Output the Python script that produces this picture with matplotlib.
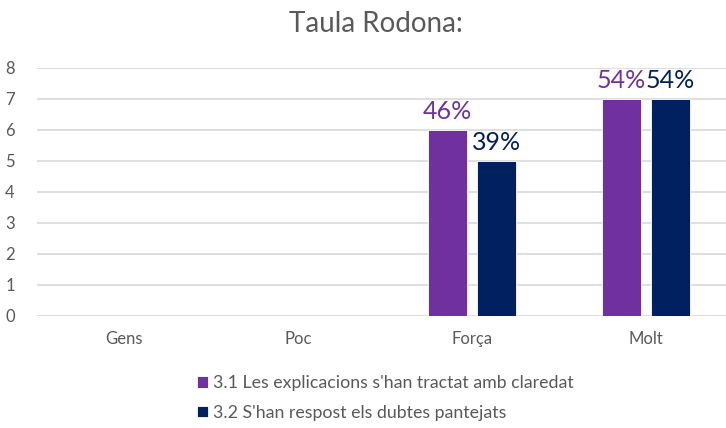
import matplotlib
matplotlib.use("Agg")
import matplotlib.pyplot as plt
import numpy as np

plt.rcParams["font.family"] = ["Lato", "DejaVu Sans"]

categories = ["Gens", "Poc", "Força", "Molt"]
series_names = [
    "3.1 Les explicacions s'han tractat amb claredat",
    "3.2 S'han respost els dubtes pantejats",
]
values_31 = [0, 0, 6, 7]
values_32 = [0, 0, 5, 7]
labels_31 = ["", "", "46%", "54%"]
labels_32 = ["", "", "39%", "54%"]

PURPLE = "#7030A0"
NAVY = "#002060"
GRAY = "#595959"

fig = plt.figure(figsize=(7.26, 4.28), dpi=100)
ax = fig.add_axes([37 / 726, 1 - 316 / 428, 1 - 37 / 726, (316 - 67.5) / 428])

x = np.arange(len(categories))
w = 0.224
off = 0.142
b1 = ax.bar(x - off, values_31, w, color=PURPLE, edgecolor="white", linewidth=0.6, zorder=3,
            label=series_names[0])
b2 = ax.bar(x + off, values_32, w, color=NAVY, edgecolor="white", linewidth=0.6, zorder=3,
            label=series_names[1])

# percentage labels above the bars
for bars, labs, col in [(b1, labels_31, PURPLE), (b2, labels_32, NAVY)]:
    for bar, lab in zip(bars, labs):
        if not lab:
            continue
        ax.annotate(lab, (bar.get_x() + bar.get_width() / 2, bar.get_height()),
                    xytext=(0, 5), textcoords="offset points",
                    ha="center", va="bottom", fontsize=18, color=col)

ax.set_xlim(-0.5, 3.46)
ax.set_ylim(0, 8)
ax.set_yticks(range(0, 9))
ax.set_xticks(x)
ax.set_xticklabels(categories)
ax.yaxis.grid(True, color="#D9D9D9", linewidth=1.2, zorder=0)
for s in ax.spines.values():
    s.set_visible(False)
ax.tick_params(axis="both", length=0, colors=GRAY, labelsize=12)
ax.tick_params(axis="y", pad=16)
ax.tick_params(axis="x", pad=11)

fig.text(376 / 726, 1 - 24 / 428, "Taula Rodona:", ha="center", va="center",
         fontsize=20, color=GRAY)

fig.legend(handles=[b1, b2], labels=series_names, loc="center left",
           bbox_to_anchor=(181 / 726, 1 - 398 / 428), frameon=False, fontsize=12.8,
           labelcolor=GRAY, handlelength=0.6, handleheight=0.6, handletextpad=0.3,
           labelspacing=0.75)

fig.savefig("out.png", dpi=100)
